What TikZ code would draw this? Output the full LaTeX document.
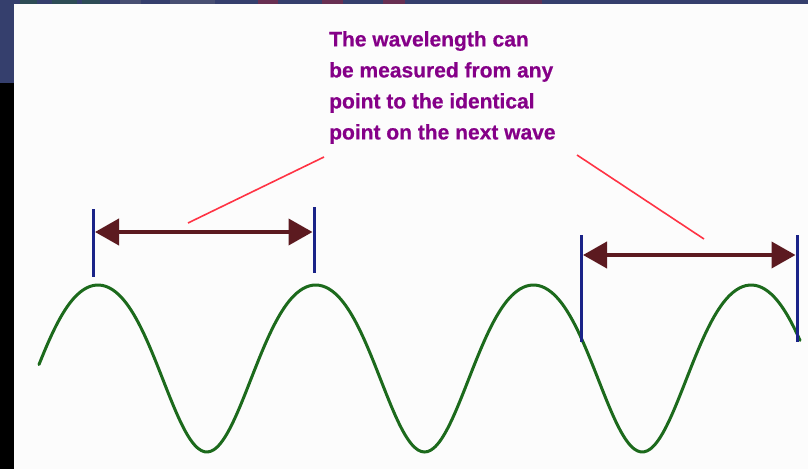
\documentclass[tikz,border=0pt]{standalone}
\usepackage{fontspec}
\setmainfont{Liberation Sans}
\newfontfamily\notefont[FakeStretch=1.0,FakeBold=0.6]{Liberation Sans Bold}
\usetikzlibrary{arrows.meta}
\definecolor{navy}{HTML}{353F6D}
\definecolor{wavegreen}{HTML}{1C6A1C}
\definecolor{barblue}{HTML}{1A2388}
\definecolor{maroon}{HTML}{5C1A20}
\definecolor{notepurple}{HTML}{850088}
\definecolor{pointer}{HTML}{FF3344}
\definecolor{paper}{HTML}{FCFCFC}
\tikzset{
  bar/.style={barblue, line width=3pt},
  dimarrow/.style={maroon, line width=4pt, {Triangle[length=24pt,width=26pt]}-{Triangle[length=24pt,width=26pt]}},
  pointerline/.style={pointer, line width=1.6pt},
  wave/.style={wavegreen, line width=3pt, line cap=round},
  note/.style={notepurple, font=\notefont\fontsize{21}{31}\selectfont, align=left, inner sep=0pt, anchor=north west}
}
\begin{document}
\begin{tikzpicture}[x=1pt,y=-1pt]
\useasboundingbox (0,0) rectangle (808,469);
% background
\fill[navy] (0,0) rectangle (808,469);
\fill[black] (0,83) rectangle (14,469);
\fill[paper] (14,4) rectangle (808,469);
% faint patches in top band
\fill[wavegreen!30!navy] (20,0) rectangle (37,3.5);
\fill[wavegreen!30!navy] (52,0) rectangle (77,3.5);
\fill[wavegreen!30!navy] (82,0) rectangle (100,3.5);
\fill[gray!25!navy] (120,0) rectangle (141,3.5);
\fill[gray!25!navy] (170,0) rectangle (215,3.5);
\fill[red!25!navy] (258,0) rectangle (278,3.5);
\fill[red!25!navy] (322,0) rectangle (343,3.5);
\fill[red!25!navy] (383,0) rectangle (405,3.5);
\fill[red!20!navy] (500,0) rectangle (542,3.5);

% wave
\draw[wave] plot[domain=39:800, samples=240, smooth]
  (\x, {360.9 - (83.5*cos(1.6536*(\x-98)) - 7.6*cos(2*1.6536*(\x-98)))});

% marker bars
\coordinate (a1) at (93,209);  \coordinate (a2) at (93,277);
\coordinate (b1) at (314,207); \coordinate (b2) at (314,273);
\coordinate (c1) at (581,235); \coordinate (c2) at (581,342);
\coordinate (d1) at (797,235); \coordinate (d2) at (797,342);
\draw[bar] (a1) -- (a2);
\draw[bar] (b1) -- (b2);
\draw[bar] (c1) -- (c2);
\draw[bar] (d1) -- (d2);

% arrows
\coordinate (la) at (95,232);  \coordinate (lb) at (312.5,232);
\coordinate (ra) at (583,255); \coordinate (rb) at (795.5,255);
\draw[dimarrow] (la) -- (lb);
\draw[dimarrow] (ra) -- (rb);

% note
\node[note] (txt) at (329,31) {The wavelength can\\be measured from any\\point to the identical\\point on the next wave};

% pointer lines
\coordinate (p1) at (324,157); \coordinate (p1e) at (188,223);
\coordinate (p2) at (577,155); \coordinate (p2e) at (704,239);
\draw[pointerline] (p1) -- (p1e);
\draw[pointerline] (p2) -- (p2e);
\end{tikzpicture}
\end{document}
